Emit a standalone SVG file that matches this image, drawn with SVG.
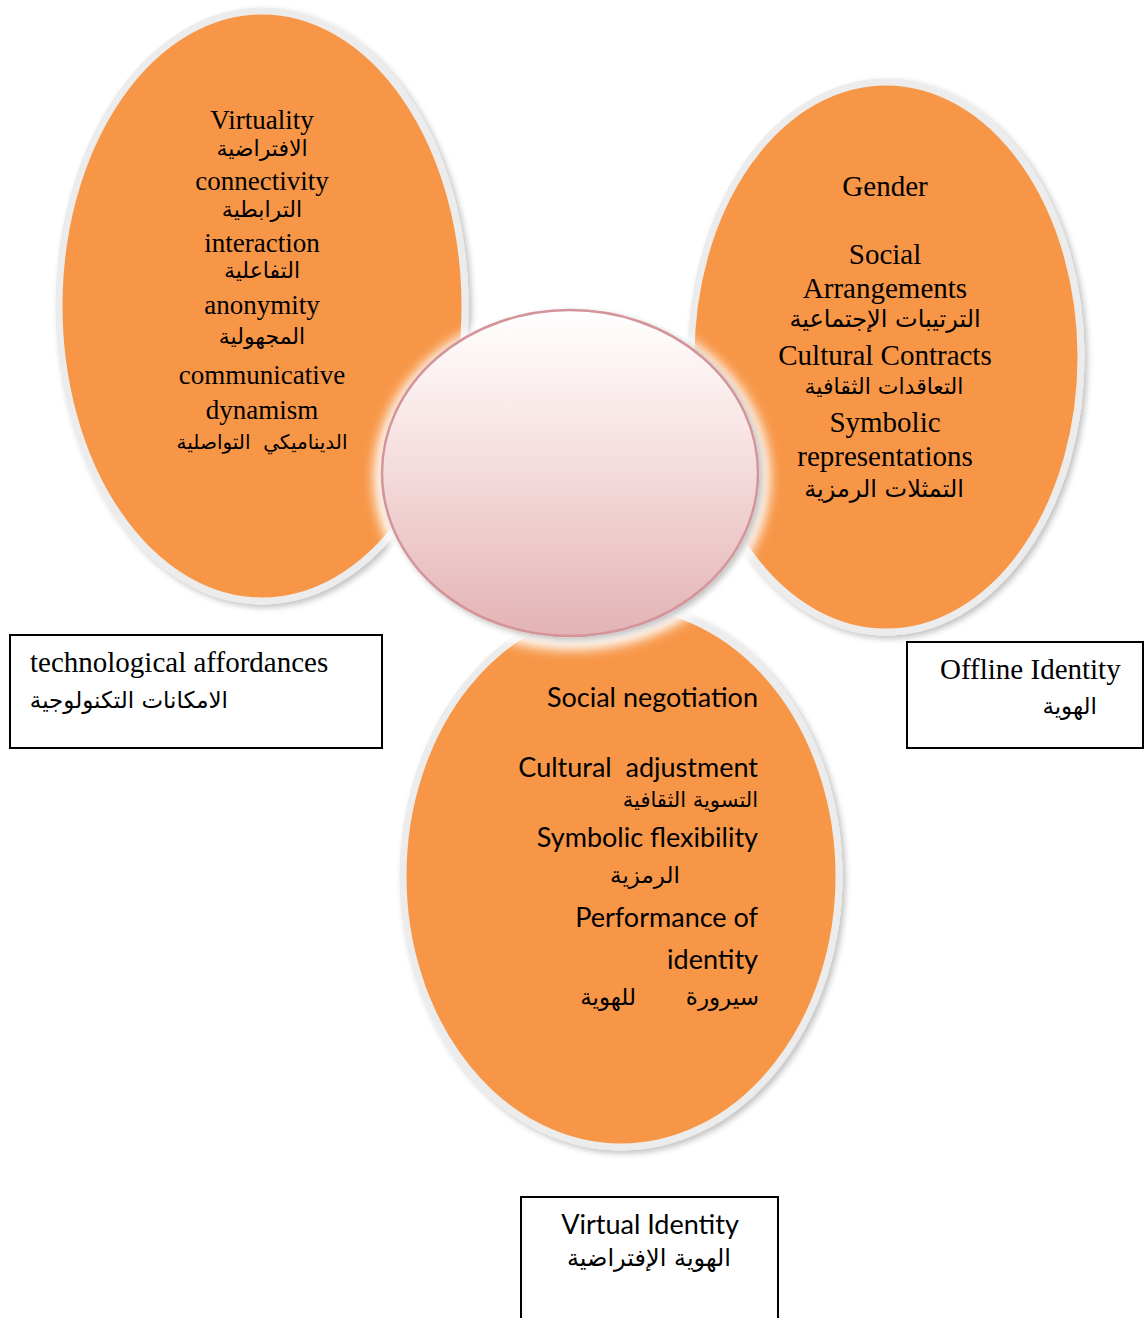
<svg xmlns="http://www.w3.org/2000/svg" width="1144" height="1318" viewBox="0 0 1144 1318">
<style>
.blob{fill:#f79646;stroke:#ececec;stroke-width:7}
.ser{font-family:"Liberation Serif","Times New Roman",serif;fill:#000}
.sans{font-family:Lato,"Liberation Sans",sans-serif;fill:#000}
.ar{font-family:"DejaVu Sans","Noto Sans",sans-serif;fill:#000}
.box{fill:#fff;stroke:#000;stroke-width:2}
</style>
<defs>
<linearGradient id="cg" x1="0" y1="0" x2="0" y2="1">
<stop offset="0" stop-color="#ffffff"/>
<stop offset="0.35" stop-color="#f9e6e6"/>
<stop offset="1" stop-color="#e3b3b5"/>
</linearGradient>
<filter id="sh" x="-10%" y="-10%" width="125%" height="125%">
<feGaussianBlur in="SourceAlpha" stdDeviation="3"/>
<feOffset dx="3" dy="3"/>
<feComponentTransfer><feFuncA type="linear" slope="0.25"/></feComponentTransfer>
<feMerge><feMergeNode/><feMergeNode in="SourceGraphic"/></feMerge>
</filter>
<filter id="glow" x="-20%" y="-20%" width="140%" height="140%">
<feGaussianBlur stdDeviation="6"/>
</filter>
</defs>
<rect width="1144" height="1318" fill="#fff"/>

<g id="node-tech">
<ellipse class="blob" cx="262" cy="306" rx="203" ry="295" filter="url(#sh)"/>
<g class="ser" font-size="27" text-anchor="middle">
<text x="262" y="129">Virtuality</text>
<text x="262" y="190">connectivity</text>
<text x="262" y="252">interaction</text>
<text x="262" y="314">anonymity</text>
<text x="262" y="384">communicative</text>
<text x="262" y="419">dynamism</text>
</g>
<g class="ar" font-size="22" text-anchor="middle">
<text x="262" y="156">الافتراضية</text>
<text x="262" y="217">الترابطية</text>
<text x="262" y="278">التفاعلية</text>
<text x="262" y="344">المجهولية</text>
<text x="262" y="449" font-size="20" style="white-space:pre">الديناميكي  التواصلية</text>
</g>
</g>

<g id="node-offline">
<ellipse class="blob" cx="886" cy="357" rx="195" ry="275" filter="url(#sh)"/>
<g class="ser" font-size="29" text-anchor="middle">
<text x="885" y="196">Gender</text>
<text x="885" y="264">Social</text>
<text x="885" y="298">Arrangements</text>
<text x="885" y="365">Cultural Contracts</text>
<text x="885" y="432">Symbolic</text>
<text x="885" y="466">representations</text>
</g>
<g class="ar" font-size="24" text-anchor="middle">
<text x="885" y="327">الترتيبات الإجتماعية</text>
<text x="884" y="394" font-size="22">التعاقدات الثقافية</text>
<text x="884" y="497">التمثلات الرمزية</text>
</g>
</g>

<g id="node-virtual">
<ellipse class="blob" cx="621" cy="876" rx="218" ry="271" filter="url(#sh)"/>
<g class="sans" font-size="27" text-anchor="end">
<text x="758" y="707">Social negotiation</text>
<text x="758" y="777" style="white-space:pre">Cultural  adjustment</text>
<text x="758" y="847">Symbolic flexibility</text>
<text x="758" y="927">Performance of</text>
<text x="758" y="969">identity</text>
</g>
<g class="ar" font-size="23">
<text x="758" y="807" text-anchor="end" font-size="21">التسوية الثقافية</text>
<text x="645" y="883" text-anchor="middle">الرمزية</text>
<text x="759" y="1005" text-anchor="end">سيرورة</text>
<text x="636" y="1005" text-anchor="end">للهوية</text>
</g>
</g>

<g id="node-center">
<ellipse cx="572" cy="478" rx="198" ry="172" fill="#fff" filter="url(#glow)"/>
<ellipse cx="570" cy="473" rx="188" ry="163" fill="url(#cg)" stroke="#d4959a" stroke-width="2.5" filter="url(#sh)"/>
</g>

<g id="node-label-tech">
<rect class="box" x="10" y="635" width="372" height="113"/>
<text class="ser" x="30" y="672" font-size="29">technological affordances</text>
<text class="ar" x="228" y="708" font-size="23" text-anchor="end">الامكانات التكنولوجية</text>
</g>

<g id="node-label-offline">
<rect class="box" x="907" y="642" width="236" height="106"/>
<text class="ser" x="940" y="679" font-size="29">Offline Identity</text>
<text class="ar" x="1097" y="714" font-size="23" text-anchor="end">الهوية</text>
</g>

<g id="node-label-virtual">
<rect class="box" x="521" y="1197" width="257" height="125"/>
<text class="sans" x="650" y="1234" font-size="27" text-anchor="middle">Virtual Identity</text>
<text class="ar" x="649" y="1266" font-size="24" text-anchor="middle">الهوية الإفتراضية</text>
</g>

<g id="connectors"></g>
</svg>
